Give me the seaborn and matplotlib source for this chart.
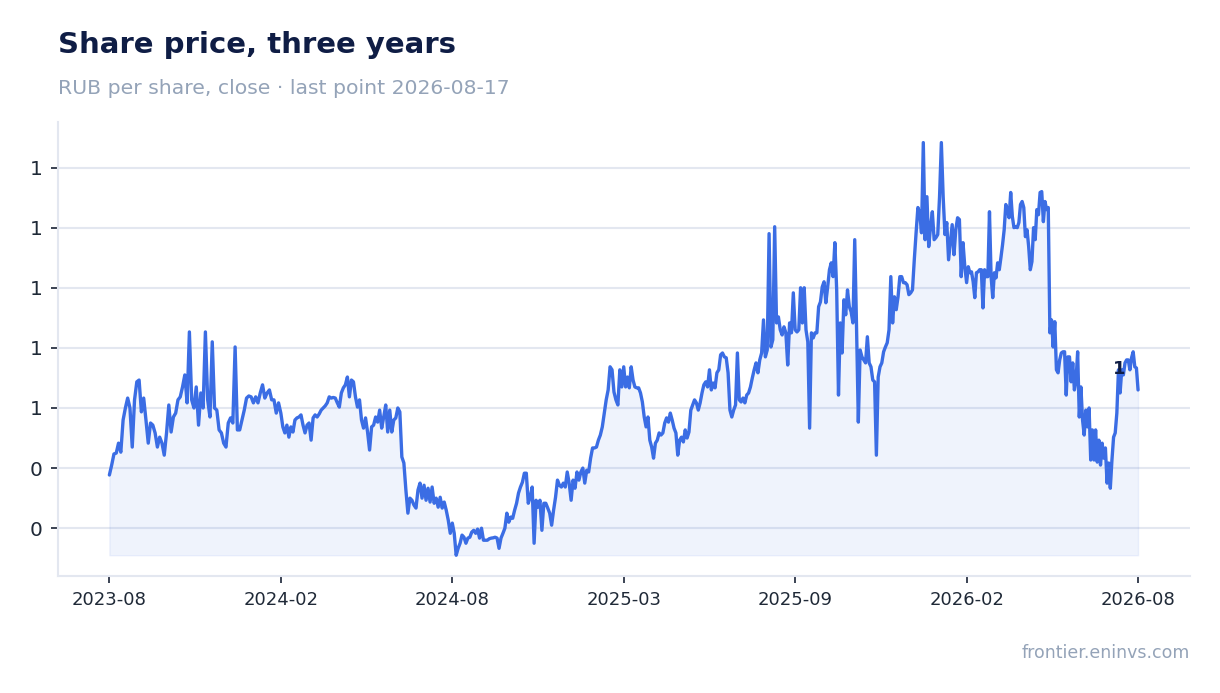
import numpy as np
import pandas as pd
import seaborn as sns
import matplotlib
matplotlib.use('Agg')
import matplotlib.pyplot as plt
from matplotlib.ticker import MultipleLocator, StrMethodFormatter

# x tick labels (equally spaced on the trading-day axis)
tick_labels = ['2023-08', '2024-02', '2024-08', '2025-03', '2025-09', '2026-02', '2026-08']

# closes, RUB per share; one list per interval between ticks
close_p1 = [0.377, 0.41, 0.447, 0.45, 0.483, 0.453, 0.56, 0.60, 0.633, 0.60,
            0.47, 0.627, 0.687, 0.693, 0.587, 0.633, 0.56, 0.483, 0.55, 0.543,
            0.517, 0.47, 0.503, 0.483, 0.443, 0.517, 0.61, 0.52, 0.57, 0.583,
            0.627, 0.637, 0.67, 0.71, 0.617, 0.853, 0.627, 0.60, 0.67, 0.543,
            0.65, 0.60, 0.853, 0.627, 0.57, 0.82, 0.60, 0.593, 0.527, 0.517,
            0.483, 0.47, 0.55, 0.567, 0.55, 0.803, 0.527, 0.527, 0.56, 0.593,
            0.633, 0.64, 0.637, 0.617, 0.637, 0.617, 0.65, 0.677, 0.633, 0.65,
            0.66, 0.627, 0.627, 0.583, 0.617]
close_p2 = [0.583, 0.537, 0.517, 0.543, 0.503, 0.537, 0.52, 0.56, 0.567, 0.57,
            0.577, 0.543, 0.517, 0.543, 0.55, 0.493, 0.567, 0.577, 0.57, 0.58,
            0.593, 0.60, 0.607, 0.617, 0.637, 0.633, 0.635, 0.633, 0.617, 0.603,
            0.65, 0.667, 0.677, 0.703, 0.637, 0.693, 0.687, 0.637, 0.603, 0.627,
            0.56, 0.533, 0.567, 0.52, 0.46, 0.537, 0.543, 0.57, 0.553, 0.593,
            0.533, 0.57, 0.61, 0.52, 0.593, 0.52, 0.56, 0.567, 0.60, 0.587,
            0.437, 0.417, 0.327, 0.25, 0.30, 0.293, 0.277, 0.267, 0.327, 0.35,
            0.30, 0.343, 0.293, 0.333, 0.287, 0.337, 0.283, 0.30, 0.27, 0.303,
            0.267, 0.287, 0.26, 0.227, 0.183]
close_p3 = [0.217, 0.183, 0.11, 0.133, 0.15, 0.177, 0.17, 0.15, 0.167, 0.17,
            0.187, 0.193, 0.183, 0.197, 0.167, 0.20, 0.16, 0.16, 0.16, 0.165,
            0.167, 0.168, 0.17, 0.167, 0.133, 0.167, 0.183, 0.20, 0.25, 0.22,
            0.237, 0.233, 0.26, 0.283, 0.317, 0.337, 0.353, 0.383, 0.383, 0.283,
            0.303, 0.337, 0.15, 0.293, 0.27, 0.293, 0.193, 0.283, 0.283, 0.267,
            0.25, 0.21, 0.26, 0.303, 0.36, 0.343, 0.337, 0.35, 0.337, 0.387,
            0.35, 0.293, 0.36, 0.333, 0.387, 0.36, 0.387, 0.40, 0.35, 0.393,
            0.387, 0.433, 0.467, 0.467, 0.47, 0.493, 0.51, 0.537, 0.583, 0.627,
            0.66, 0.737, 0.727, 0.653, 0.627, 0.61, 0.727, 0.67]
close_p4 = [0.737, 0.67, 0.703, 0.667, 0.737, 0.693, 0.67, 0.667, 0.667, 0.65,
            0.62, 0.57, 0.537, 0.57, 0.493, 0.47, 0.433, 0.483, 0.493, 0.517,
            0.51, 0.517, 0.55, 0.567, 0.553, 0.583, 0.56, 0.533, 0.517, 0.443,
            0.493, 0.503, 0.487, 0.527, 0.50, 0.52, 0.593, 0.61, 0.627, 0.617,
            0.593, 0.617, 0.65, 0.677, 0.687, 0.67, 0.727, 0.66, 0.683, 0.667,
            0.717, 0.727, 0.777, 0.783, 0.77, 0.767, 0.717, 0.593, 0.57, 0.593,
            0.61, 0.783, 0.627, 0.62, 0.633, 0.617, 0.643, 0.65, 0.67, 0.70,
            0.727, 0.75, 0.717, 0.76, 0.783, 0.893, 0.77, 0.793, 1.18, 0.803,
            0.827, 1.203, 0.883, 0.903, 0.86, 0.843, 0.87, 0.85, 0.743, 0.883,
            0.85, 0.983]
close_p5 = [0.86, 0.853, 0.86, 1.0, 0.883, 1.0, 0.86, 0.82, 0.533, 0.85,
            0.833, 0.85, 0.85, 0.937, 0.953, 1.003, 1.02, 0.95, 1.003, 1.06,
            1.083, 1.037, 1.15, 0.993, 0.643, 0.883, 0.783, 0.96, 0.91, 0.993,
            0.937, 0.92, 0.883, 1.16, 0.87, 0.553, 0.793, 0.77, 0.76,
            0.75, 0.837, 0.75, 0.737, 0.693, 0.687, 0.443, 0.703, 0.737, 0.75,
            0.787, 0.803, 0.817, 0.86, 1.037, 0.883, 0.97, 0.927, 0.97, 1.037,
            1.037, 1.017, 1.017, 1.01, 0.977, 0.983, 0.993, 1.093, 1.183, 1.267,
            1.25, 1.183, 1.483, 1.16, 1.303, 1.137, 1.203, 1.253, 1.16, 1.167,
            1.177, 1.303, 1.483, 1.303, 1.177, 1.217, 1.093, 1.15, 1.21, 1.11,
            1.193, 1.233, 1.227, 1.037, 1.15, 1.07]
close_p6 = [1.017, 1.07, 1.05, 1.053, 1.02, 0.967, 1.05, 1.053, 1.06, 1.06,
            0.933, 1.06, 1.037, 1.037, 1.253, 1.037, 0.967, 1.05, 1.033, 1.083,
            1.06, 1.10, 1.143, 1.193, 1.277, 1.26, 1.233, 1.317, 1.237, 1.20,
            1.203, 1.20, 1.217, 1.277, 1.287, 1.267, 1.17, 1.193, 1.137, 1.06,
            1.087, 1.20, 1.16, 1.26, 1.243, 1.317, 1.32, 1.22, 1.287, 1.26,
            1.267, 0.85, 0.893, 0.803, 0.887, 0.727, 0.717, 0.76, 0.783, 0.787,
            0.787, 0.643, 0.77, 0.77, 0.687, 0.75, 0.66, 0.693, 0.787, 0.57,
            0.67, 0.56, 0.51, 0.593, 0.537, 0.60, 0.427, 0.527, 0.427, 0.527,
            0.42, 0.493, 0.41, 0.483, 0.433, 0.467, 0.35, 0.417, 0.333, 0.427,
            0.503, 0.517, 0.583, 0.727, 0.65, 0.727, 0.71, 0.75, 0.76, 0.76,
            0.727, 0.767, 0.787, 0.737, 0.733, 0.66]

LINE = '#3b6de4'
NAVY = '#0f1d45'
MUTED = '#94a3b8'
GRID = '#e3e7f0'

# spread each interval's closes evenly between its two ticks
segments = [close_p1, close_p2, close_p3, close_p4, close_p5, close_p6]
pos, close = [], []
for k, seg in enumerate(segments):
    n = len(seg)
    step = n - 1 if k == len(segments) - 1 else n
    pos += [k + i / step for i in range(n)]
    close += seg
df = pd.DataFrame({'pos': pos, 'close': close})

sns.set_style('white')
plt.rcParams['font.family'] = ['DejaVu Sans']

fig = plt.figure(figsize=(12.2, 6.93), dpi=100)
ax = fig.add_axes([0.0475, 0.169, 0.9275, 0.655])

ax.yaxis.grid(True, color=GRID, lw=1.5)
ax.set_axisbelow(True)

ax.fill_between(df['pos'], df['close'], df['close'].min(), color=LINE, alpha=0.08, lw=1)
sns.lineplot(data=df, x='pos', y='close', ax=ax, color=LINE, lw=2.4, estimator=None)

last = df.iloc[-1]
ax.annotate(f"{last['close']:.0f}", (last['pos'], last['close']), xytext=(-19, 21),
            textcoords='offset pixels', ha='center', va='center',
            fontsize=13, fontweight='bold', color=NAVY)

ax.set_xticks(range(len(tick_labels)))
ax.set_xticklabels(tick_labels)
ax.yaxis.set_major_locator(MultipleLocator(0.2))
ax.yaxis.set_major_formatter(StrMethodFormatter('{x:.0f}'))
ax.set_xlabel('')
ax.set_ylabel('')

for side in ['top', 'right']:
    ax.spines[side].set_visible(False)
for side in ['left', 'bottom']:
    ax.spines[side].set_color(GRID)
    ax.spines[side].set_linewidth(1.5)

ax.tick_params(axis='x', bottom=True, length=5, width=1.3, color='#2b3445',
               labelsize=13, labelcolor='#1f2937', pad=6)
ax.tick_params(axis='y', left=True, length=5, width=1.3, color='#2b3445',
               labelsize=14.5, labelcolor='#1f2937', pad=6)

fig.text(0.0475, 0.923, 'Share price, three years', fontsize=21, fontweight='bold',
         color=NAVY, va='baseline', ha='left')
fig.text(0.0475, 0.865, 'RUB per share, close \u00b7 last point 2026-08-17', fontsize=14.7,
         color=MUTED, va='baseline', ha='left')
fig.text(0.975, 0.0505, 'frontier.eninvs.com', fontsize=12.5, color=MUTED,
         va='baseline', ha='right')

fig.savefig('out.png', dpi=100)
